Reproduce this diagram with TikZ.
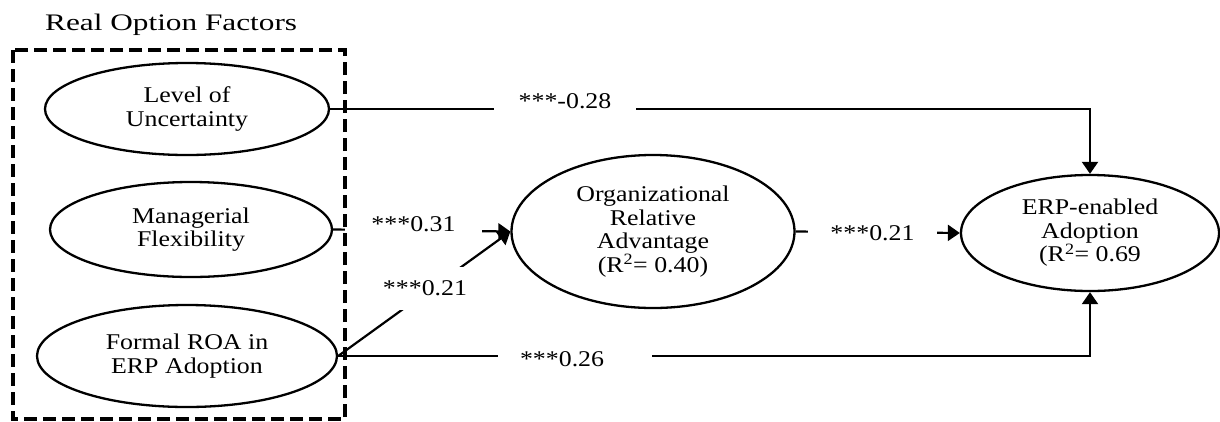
\documentclass[tikz,border=0pt]{standalone}
\usepackage{fontspec}
\setmainfont[FakeStretch=1.15]{Liberation Serif}
\newfontfamily\titlefont[FakeStretch=1.32]{Liberation Serif}
\usetikzlibrary{shapes.geometric,arrows.meta}
\tikzset{
  construct/.style={ellipse, draw, line width=2.3pt, inner sep=0pt, align=center,
    font=\fontsize{22.5}{23.5}\selectfont},
  conn/.style={line width=2.2pt, -{Triangle[length=12pt,width=16pt]}},
  coef/.style={fill=white, inner xsep=0pt, inner ysep=5pt,
    font=\fontsize{22.5}{23.5}\selectfont},
  groupbox/.style={line width=4.5pt, dash pattern=on 13pt off 6pt},
}
\begin{document}
\begin{tikzpicture}[x=1pt,y=-1pt]
\useasboundingbox (0,0) rectangle (1220,421);

% group title
\node[anchor=base west, inner sep=0pt, font=\titlefont\fontsize{23.7}{28}\selectfont]
  (title) at (45,30) {Real Option Factors};

% constructs
\node[construct, minimum width=284pt, minimum height=92pt]  (lvl) at (187,109) {Level of\\Uncertainty};
\node[construct, minimum width=282pt, minimum height=95pt]  (mgr) at (191,229.5) {Managerial\\Flexibility};
\node[construct, minimum width=300pt, minimum height=102pt] (roa) at (187,356) {Formal ROA in\\ERP Adoption};
\node[construct, minimum width=283pt, minimum height=153pt] (ora) at (653,231.5)
  {Organizational\\Relative\\Advantage\\(R\textsuperscript{2}= 0.40)};
\node[construct, minimum width=258pt, minimum height=116pt] (erp) at (1090,233)
  {ERP-enabled\\Adoption\\(R\textsuperscript{2}= 0.69};

% paths
\draw[conn] (lvl.east) -| (erp.north);
\draw[conn] (mgr.east) -- (ora.west);
\draw[conn] (roa.east) -- (ora.west);
\draw[conn] (ora.east) -- (erp.west);
\draw[conn] (roa.east) -| (erp.south);

% path coefficients
\node[coef, minimum width=142pt] (c1) at (565,101.5) {***-0.28};
\node[coef, minimum width=137pt] (c2) at (413.5,224.5) {***0.31};
\node[coef, inner xsep=2pt, minimum height=43pt] (c3) at (425,288) {***0.21};
\node[coef, minimum width=129pt] (c4) at (872.5,233.5) {***0.21};
\node[coef, text width=110pt, inner xsep=22pt, align=left] (c5) at (575,359) {***0.26};

% real option factors group
\draw[groupbox] (13,50) rectangle (345,419);
\end{tikzpicture}
\end{document}
